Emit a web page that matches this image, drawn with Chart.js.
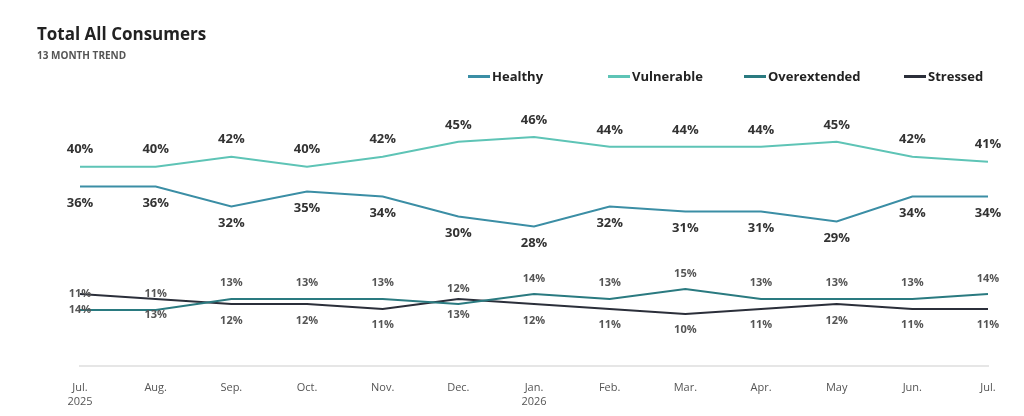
<!DOCTYPE html>
<html><head><meta charset="utf-8">
<script src="https://cdn.jsdelivr.net/npm/chart.js@4/dist/chart.umd.min.js"></script>
<style>
body{margin:0;background:#fff;font-family:"Open Sans",Arial,sans-serif;}
#wrap{position:relative;width:1024px;height:416px;}
h1{position:absolute;left:37px;top:22px;margin:0;font-size:17px;font-weight:700;color:#222;}
h2{position:absolute;left:37px;top:48px;margin:0;font-size:10px;font-weight:700;color:#555;}
#leyenda{position:absolute;top:67px;left:468px;font-size:13px;font-weight:700;color:#222;display:flex;}
#leyenda span{display:flex;align-items:center;margin-right:0;}
#leyenda i{display:inline-block;width:22px;height:3px;margin-right:2px;}
canvas{position:absolute;left:0;top:0;}
</style></head>
<body><div id="wrap">
<canvas id="grafico" width="1024" height="416"></canvas>
<h1>Total All Consumers</h1>
<h2>13 MONTH TREND</h2>
<div id="leyenda">
<span style="width:140px"><i style="background:#3b8ea5"></i>Healthy</span>
<span style="width:136px"><i style="background:#5ec4b6"></i>Vulnerable</span>
<span style="width:160px"><i style="background:#2a7a80"></i>Overextended</span>
<span><i style="background:#2b2f3a"></i>Stressed</span>
</div>
</div>
<script>
const meses = [["Jul.","2025"],"Aug.","Sep.","Oct.","Nov.","Dec.",["Jan.","2026"],"Feb.","Mar.","Apr.","May","Jun.","Jul."];

// posicion de las lineas y textos de las etiquetas
const series = [
  {label:"Healthy", color:"#3b8ea5",
   data:[36,36,32,35,34,30,28,32,31,31,29,34,34],
   textos:[36,36,32,35,34,30,28,32,31,31,29,34,34],
   offs:Array(13).fill(17), big:true},
  {label:"Vulnerable", color:"#5ec4b6",
   data:[40,40,42,40,42,45,46,44,44,44,45,42,41],
   textos:[40,40,42,40,42,45,46,44,44,44,45,42,41],
   offs:Array(13).fill(-17), big:true},
  {label:"Overextended", color:"#2a7a80",
   data:[11.2,11.2,13.4,13.4,13.4,12.4,14.4,13.4,15.4,13.4,13.4,13.4,14.4],
   textos:[14,13,13,13,13,13,14,13,15,13,13,13,14],
   offs:[0,5,-16,-16,-16,11,-15,-16,-15,-16,-16,-16,-15], big:false},
  {label:"Stressed", color:"#2b2f3a",
   data:[14.4,13.4,12.4,12.4,11.4,13.4,12.4,11.4,10.4,11.4,12.4,11.4,11.4],
   textos:[11,11,12,12,11,12,12,11,10,11,12,11,11],
   offs:[0,-5,17,17,16,-10,17,16,16,16,17,16,16], big:false}
];

const etiquetas = {
  id:"etiquetas",
  afterDatasetsDraw(chart){
    const ctx = chart.ctx;
    ctx.save();
    ctx.textAlign="center"; ctx.textBaseline="middle";
    series.forEach((s,i)=>{
      const meta = chart.getDatasetMeta(i);
      ctx.font = s.big ? "bold 13px 'Open Sans'" : "bold 11px 'Open Sans'";
      ctx.fillStyle = s.big ? "#333" : "#555";
      meta.data.forEach((p,j)=>{
        ctx.fillText(s.textos[j]+"%", p.x, p.y+s.offs[j]);
      });
    });
    ctx.restore();
  }
};

new Chart(document.getElementById("grafico"), {
  type:'line',
  data:{
    labels:meses,
    datasets:series.map(s=>({label:s.label,data:s.data,borderColor:s.color,borderWidth:2,pointRadius:0,tension:0,fill:false}))
  },
  options:{
    responsive:false, animation:false,
    layout:{padding:{left:80,right:36,top:117,bottom:0}},
    plugins:{legend:{display:false},tooltip:{enabled:false}},
    scales:{
      x:{offset:false,grid:{display:false},border:{color:"#e6e6e6",width:2},
         ticks:{color:"#555",font:{size:11,family:"Open Sans"},maxRotation:0,autoSkip:false,padding:8}},
      y:{display:false,min:0,max:50}
    }
  },
  plugins:[etiquetas]
});
</script>
</body></html>
